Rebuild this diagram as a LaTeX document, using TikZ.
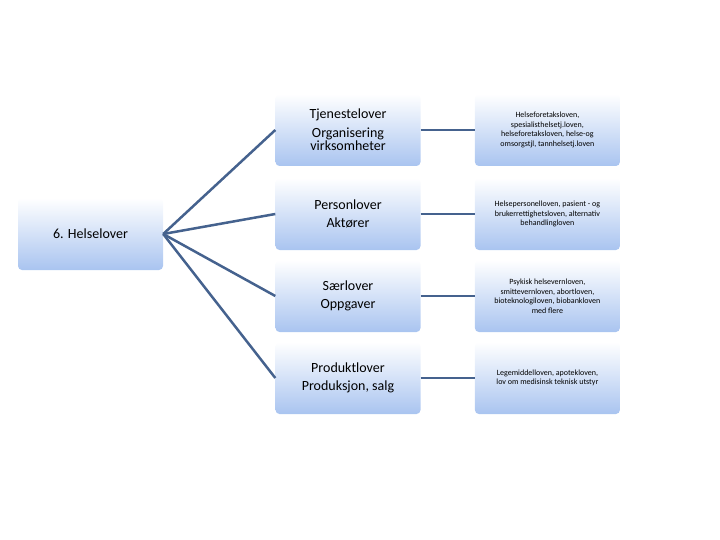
\documentclass[tikz,border=0pt]{standalone}
\usepackage{fontspec}
\setmainfont{Carlito}
\usetikzlibrary{positioning}
\definecolor{linkblue}{HTML}{45628E}
\definecolor{boxblue}{HTML}{A9C4F0}

\begin{document}
\begin{tikzpicture}[x=1pt, y=-1pt,
        LAW/.style={rectangle, rounded corners=4pt, top color=white, bottom color=boxblue, minimum width=145pt, minimum height=72pt, align=center, inner sep=3pt},
        LINK/.style={draw=linkblue, line width=2.5pt},
    ]
        \useasboundingbox (0,0) rectangle (720,540);
        %Nodes
        \node[LAW] (Helse) at (90.5,234) {\fontsize{14}{16}\selectfont 6. Helselover};
        \node[LAW] (Tjeneste) at (348,130) {\fontsize{14}{16}\selectfont Tjenestelover\\[6pt] \fontsize{14}{16}\selectfont Organisering\\ \fontsize{14}{16}\selectfont virksomheter};
        \node[LAW] (Person) at (348,214) {\fontsize{14}{16}\selectfont Personlover\\[6pt] \fontsize{14}{16}\selectfont Aktører};
        \node[LAW] (Saer) at (348,296) {\fontsize{14}{16}\selectfont Særlover\\[6pt] \fontsize{14}{16}\selectfont Oppgaver};
        \node[LAW] (Produkt) at (348,378) {\fontsize{14}{16}\selectfont Produktlover\\[6pt] \fontsize{14}{16}\selectfont Produksjon, salg};
        \node[LAW, font=\fontsize{8}{9.5}\selectfont] (TjenesteL) [right=54pt of Tjeneste] {Helseforetaksloven,\\ spesialisthelsetj.loven,\\ helseforetaksloven, helse-og\\ omsorgstjl, tannhelsetj.loven};
        \node[LAW, font=\fontsize{8}{9.5}\selectfont] (PersonL) [right=54pt of Person] {Helsepersonelloven, pasient - og\\ brukerrettighetsloven, alternativ\\ behandlingloven};
        \node[LAW, font=\fontsize{8}{9.5}\selectfont] (SaerL) [right=54pt of Saer] {Psykisk helsevernloven,\\ smittevernloven, abortloven,\\ bioteknologiloven, biobankloven\\ med flere};
        \node[LAW, font=\fontsize{8}{9.5}\selectfont] (ProduktL) [right=54pt of Produkt] {Legemiddelloven, apotekloven,\\ lov om medisinsk teknisk utstyr};

        %Lines
        \foreach \row in {Tjeneste, Person, Saer, Produkt} {
            \draw[LINK] (Helse.east) -- (\row.west);
            \draw[LINK] (\row.east) -- (\row L.west);
        }
    \end{tikzpicture}
\end{document}
